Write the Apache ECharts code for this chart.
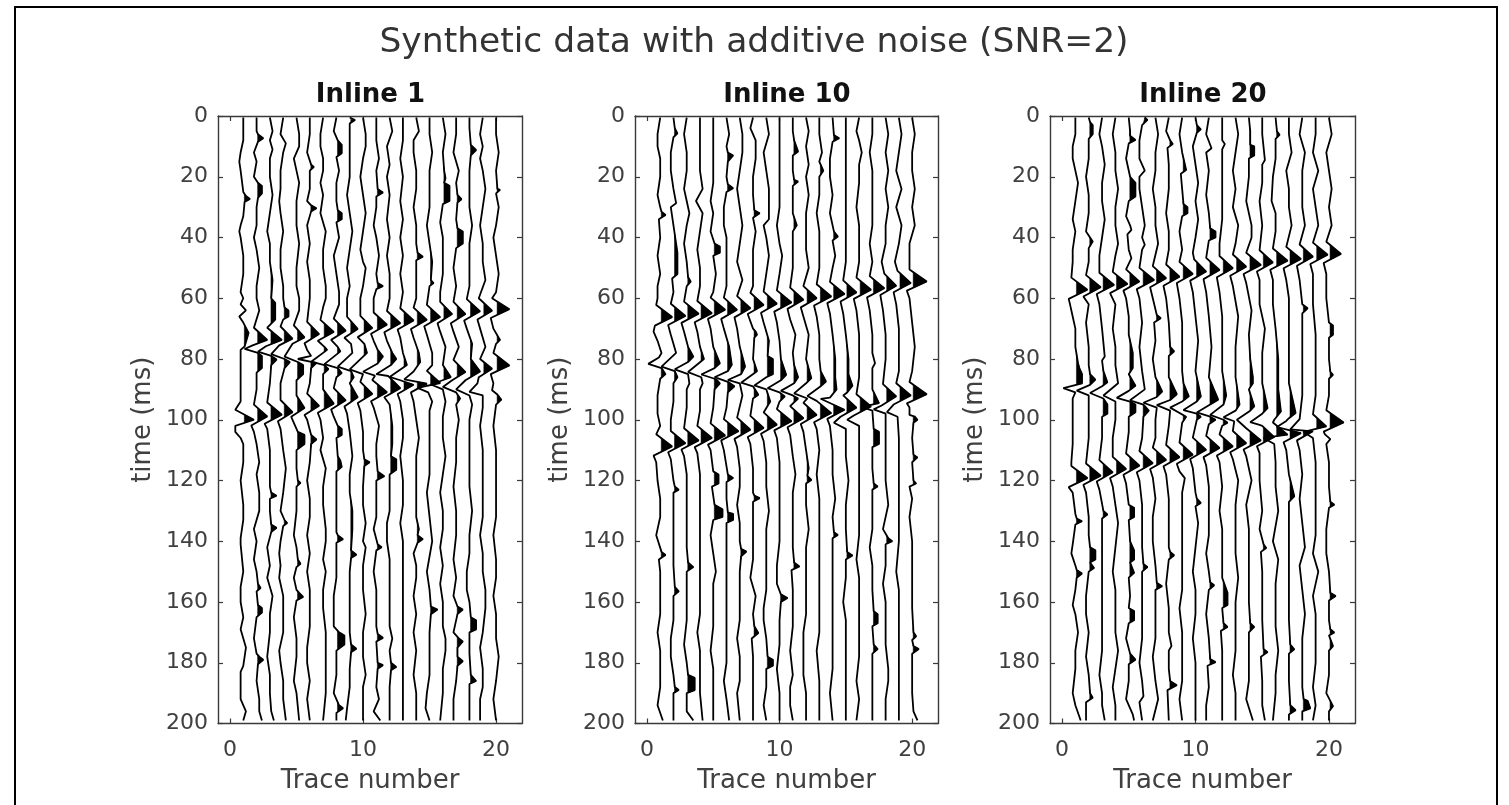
<!DOCTYPE html>
<html><head><meta charset="utf-8">
<script src="https://cdn.jsdelivr.net/npm/echarts@6/dist/echarts.min.js"></script>
<style>html,body{margin:0;padding:0;background:#fff}#c{width:1509px;height:805px;filter:blur(0.4px)}</style>
</head><body><div id="c"></div>
<script>
// Traces: flat lists of time (ms), amplitude (tenths of a trace spacing).
const inline1 = [
[0.5,0,8,0,12,-2,15,-3,18,-2,25,0,26.3,2,27.3,5,28.3,1,33,0,36,-2,38,-3,40,-2,46,0,52,0,58,-2,60,0,62,-2,64,2,66,-3,68,0,71.4,4,75.9,1,77,-2,82,-2,90,-2,94,-2,96.7,-6,100,8,102,-6,104,-6,106,-2,108,0,114,0,120,-2,128,0,133,0,139,-2,141,-2,150,0,155,-2,160,-2,165,0,169,-2,175,2,181,0,183,-2,192,-2,196,2,199,0],
[0.5,0,5,0,6,1,7.3,5,8.5,1,12,-2,15,0,20,-2,22,1,23,4,25.5,4,27,1,30,0,36,0,40,-2,44,0,50,2,56,0,60,0,64,2,69.7,-2,73.7,8,75.5,-3,76.7,-9,78,1,79,4,83,4,84.5,0,90,0,95,-2,98.9,8,101.9,-4,104,-2,108,0,114,2,118,0,124,2,130,2,136,-2,140,0,146,-2,150,0,154,1,155.4,3,156.5,0,161,1,162,4,163.5,4,165,0,172,-2,177,0,178,2,179,5,180.5,1,186,0,192,2,196,2,199,4],
[0.5,0,5,2,8,0,11,2,14,0,20,0,26,2,32,0,38,-2,42,0,48,0,54,2,60,1,61.5,4,67,4,69.7,-2,73.7,9,75.8,-3,77.6,-9,79,1,80.2,5,82,1,88,0,94.3,-2,98.3,9,101.3,-4,103,-2,110,0,116,0,122,0,124,1,125,5,126,0,130,0,134.5,1,135.6,5,137,1,142,-2,148,0,152,-2,158,2,164,0,170,0,178,-2,184,0,190,0,196,1,199,3],
[0.5,0,6,-2,9,2,12,0,18,-2,24,-2,28,-3,32,-2,38,0,44,-2,50,-2,56,0,60,0,63,1,64,4,66,4,67,0,69.3,-2,73.3,7,75.5,-3,78.4,-9,80,1,81,5,83,1,88,-2,93.5,-2,97.5,7,100.5,-4,103,-2,110,0,116,2,124,0,130,-2,133,1,134,3,135,0,140,-2,144,-3,148,-2,152,-3,158,0,164,0,170,0,176,-3,180,-2,186,0,192,0,199,2],
[0.5,0,6,2,10,2,14,-2,18,0,22,2,28,0,36,0,42,2,50,0,56,0,60,2,64,2,68.9,-2,72.9,6,75,-3,79.2,-9,81,1,82,5,85,5,87,0,92,0,96.1,6,99,-4,101,-2,104,1,105,6,108,6,110,0,116,0,120,1,120.8,3,122,0,130,0,138,-2,142,0,146,1,147.4,3,148.5,0,152,-2,156,0,157,2,158.3,5,159.5,0,165,-2,172,0,178,0,186,-2,190,0,199,2],
[0.5,0,6,0,12,-2,16,1,16.8,3,18,0,24,0,28,-2,29.4,1,30.4,5,31.4,1,36,-2,42,0,48,-2,54,0,60,0,67.8,-2,71.8,7,74.8,-4,77,-2,79,1,80,-9,81,2,81.3,5,83,1,88,0,91.4,-2,95.4,7,98.4,-4,100,-2,105,1,106.5,5,108,1,114,0,120,-2,126,0,132,0,138,-2,144,0,150,-2,156,0,162,0,168,0,175,-2,180,-2,186,0,192,-2,199,0],
[0.5,0,6,-2,10,-2,14,0,18,0,22,-2,26,0,32,-2,38,2,44,0,50,0,56,2,60,2,63,0,67.1,-2,71.1,8,74,-4,76,1,77,3,80.9,-9,82,1,83.3,4,85,0,90,0,94.7,8,97.7,-4,100,-2,106,0,110,-2,116,2,122,0,128,0,136,2,140,2,146,0,150,2,156,0,162,0,170,2,178,2,184,2,190,2,199,0],
[0.5,0,5,-2,8,1,9.5,4,12.3,4,13.5,0,18,2,22,0,28,0,31,1,32,4,34,4,35,0,40,2,46,-2,52,0,58,2,62,2,66.7,-2,70.7,7,73.7,-4,76,1,77.5,3,81.7,-9,83,1,84.6,4,86,0,89.6,-2,93.6,7,96.6,-4,99,-2,102,1,103,4,105,4,106,0,112,1,113.5,3,115.5,4,117,0,124,0,130,0,137,0,138,1,139.3,5,140.5,0,146,0,152,0,158,-2,164,-2,168,-2,170,2,171,6,174,6,176,0,184,0,190,-2,194,2,195,5,196.5,0,199,0],
[0.5,0,1,0,1.3,4,2.5,0,8,0,14,0,20,0,26,-2,32,0,38,2,44,0,50,-2,56,0,60,-2,66.1,-2,70.1,6,73,-4,75,1,78,2,82.5,-9,84,1,86,3,88,0,92.6,6,95.6,-4,98,-2,104,0,112,2,118,0,124,0,130,2,136,2,143,1,144.4,5,145.5,1,150,0,158,0,164,0,170,0,174,1,175.4,5,176.5,1,182,0,188,0,195,-2,199,-3],
[0.5,0,6,2,10,2,14,0,20,-2,26,0,32,2,38,0,44,-2,48,0,50,2,56,0,60,-2,65.8,-2,69.8,7,72.8,-4,75,1,78,3,83.4,-10,85,0,87.5,-2,91.5,7,94.5,-4,97,-2,104,0,110,0,113,1,114,5,115.2,1,122,0,128,0,134,2,140,0,142,2,148,0,156,0,164,2,170,0,178,0,184,2,188,0,192,0,199,0],
[0.5,0,8,0,14,2,18,0,24,1,25.2,5,26.5,0,30,0,36,-2,40,0,46,2,52,0,55,1,56,5,57,0,60,-2,64.7,-2,68.7,8,71.7,-4,74,-2,77,1,79.2,5,81.5,1,84.2,-10,85.5,-1,86.9,-3,90.9,8,93.9,-4,96,-2,102,2,108,0,112,0,117,1,118.6,6,120,0,126,0,132,0,136,-2,141,1,142,4,143,0,150,-2,156,0,162,0,168,0,170.5,1,171.8,5,173,0,180,1,180.8,5,182,1,188,0,192,2,196,-2,199,3],
[0.5,0,5,2,10,-2,16,0,20,-2,26,0,34,-2,40,0,46,-2,52,0,58,0,60,0,64.2,-2,68.2,8,71.2,-4,74,-2,78,2,80,5,82,1,85,-10,85.6,-1,86,0,89.6,8,92.6,-4,95,0,102,2,108,2,112,1,113,5,116.5,5,118,0,124,0,130,0,134,-2,140,-2,146,0,152,0,160,0,168,0,172,2,176,0,180,1,181.4,5,182.5,1,188,0,194,0,199,0],
[0.5,0,8,0,14,-2,20,0,28,-2,34,0,40,-2,46,0,52,-2,58,0,63.3,-2,67.3,8,70.3,-4,73,-2,78,0,82,3,85.9,-10,87,-2,88.5,8,91.5,-4,94,-2,100,0,106,0,112,-2,120,0,128,0,134,-2,140,0,146,0,152,0,158,0,166,0,172,0,180,0,186,0,192,0,199,0],
[0.5,0,5,2,8,-2,12,-2,18,0,24,0,30,-2,36,0,42,0,45,1,46.3,5,47.5,0,54,0,60,0,63.1,-2,67.1,8,70.1,-4,73,-2,78,2,81,3,84.1,-2,86.7,-9,88.1,8,91,-4,94,-2,100,0,106,2,112,0,118,0,126,0,132,0,136,2,138,1,139.3,5,140.5,1,144,-2,148,0,152,0,158,-2,164,0,170,-2,176,0,184,-2,190,0,199,0],
[0.5,0,6,0,12,2,18,0,24,0,30,0,36,-2,42,0,48,2,54,1,55,3,56,0,62.2,-2,66.2,8,69.2,-4,72,-2,78,2,82,2,83.9,-2,87.9,8,89.5,-9,91,-1,94,2,97,0,103,0,110,0,118,0,124,-2,132,0,140,2,150,-2,156,0,161.5,1,162.5,6,164,1,170,0,176,0,184,0,190,-2,195,-3,199,0],
[0.5,0,6,2,12,0,18,1,20.5,2,22,1,23,5,28,5,29,0,35,-2,40,0,46,0,52,0,58,-2,61.2,-2,65.2,7,68.2,-4,71,-2,76,2,82,0,86,6,88.4,-9,90,0,94,2,99,0,106,0,112,2,118,0,124,-2,130,0,136,0,142,-2,148,0,154,-2,160,0,168,0,172,2,176,2,182,0,190,0,199,-2],
[0.5,0,6,0,12,-2,18,2,22,0,26,1,27.4,4,28.5,1,34,0,37,1,38,5,42,5,43.5,0,50,-2,56,0,61.2,-2,65.2,7,68.2,-4,71,-2,76,2,80.3,-2,84.3,7,87,-3,89.2,-10,91,0,93,3,95,0,100,2,106,0,114,0,122,-2,130,0,138,0,146,-2,152,0,158,-2,161.5,1,162.5,5,164,1,170,-2,172,2,173,5,175,1,178,1,179.5,5,181,1,186,0,192,-2,199,-2],
[0.5,0,4,0,9.5,1,11.2,5,13,1,18,0,24,0,30,0,36,2,42,0,50,0,56,0,60.3,-2,64.3,8,67.3,-4,70,-2,75,2,80,1,84.1,8,87,-3,90,-10,92,0,95,2,100,0,108,0,116,0,122,0,130,2,138,0,144,0,150,-2,156,-2,160,0,165,1,166,5,169,5,170,0,177,0,184,1,186,5,187,0,192,0,199,0],
[0.5,0,6,-2,10,0,14,-2,18,0,24,2,30,0,36,-2,42,0,48,0,54,2,60,-3,64.1,7,67,-4,70,-2,76,2,80,-2,83.2,7,86,-3,88,-4,90.8,-10,92,0,96,0,102,-2,110,0,116,0,124,0,132,0,138,-2,144,0,150,0,156,2,162,2,170,0,175,-2,182,0,188,0,192,-2,199,-2],
[0.5,0,6,0,12,2,18,0,24,1,24.3,3,25.5,0,30,2,36,0,40,-2,46,0,52,2,58,0,60,-3,63.6,10,66.5,-4,70,-2,73,2,73.7,3,75,0,78,-2,82.1,10,85,-4,88,-2,90.3,-3,91.7,1,93.4,4,95,0,102,-2,110,0,116,0,124,0,132,0,138,-2,146,0,152,0,158,-2,164,0,172,0,178,2,186,0,192,-2,199,0]
];
const inline10 = [
[0.5,0,6,-2,10,-2,14,0,20,0,26,-2,30,0,31.5,1,32.6,4,34,-1,40,0,46,-2,52,0,56,-2,60,-2,62.2,-3,66.2,9,69,-4,71,-5,74,-2,78,1,79.5,-1,81.6,-9,83,1,85,4,86.5,0,92,-2,98,-2,102,0,104.8,-3,108.8,9,111.8,-5,114,-3,120,-2,126,0,132,0,136,-2,138,-3,143.5,1,144.5,4,146,-1,150,0,158,0,164,0,170,-2,176,0,182,0,188,0,194,-2,199,2],
[0.5,0,4,1,5.7,3,7,0,12,-2,18,-2,24,0,28.7,2,30,-2,36,0,42,2,45,3,52,3,53.5,-1,58,0,61.8,-2,65.8,9,68.8,-4,72,-2,78,2,82.5,-9,84,1,86,3,88,0,94,0,100,-2,103.7,-2,107.7,9,110.7,-4,113,-2,120,0,122,1,123,4,124,0,130,0,136,0,142,0,148,0,155,1,156.5,4,158,0,166,0,172,-2,178,-2,184,0,188,1,189,4,190,0,199,0],
[0.5,0,6,-2,12,0,18,0,24,-2,28,0,32,2,36,0,42,-2,48,0,53,1,54.5,3,56,0,61.1,-2,65.1,9,68.1,-4,71,-2,76,1,79.2,5,81,1,83.4,-9,85,1,88,2,90,0,96,0,102.8,-2,106.8,9,109.8,-4,112,-2,118,0,126,0,134,0,142,0,147,1,148.5,5,150,0,158,0,166,0,174,-2,180,0,184,1,185,6,189,6,190,0,196,0,199,5],
[0.5,0,6,0,12,0,18,0,24,2,28,-3,32,2,38,0,44,-2,50,0,56,0,60.9,-2,64.9,9,67.9,-4,71,-2,76,0,80,3,84.3,-9,86,1,88,2,90,0,97,0,102,-2,106,9,109,-4,111,-2,118,0,126,0,134,0,140,0,148,0,156,0,164,0,170,-2,176,0,184,0,190,0,199,2],
[0.5,0,8,0,14,0,22,0,28,-2,32,0,38,-2,42,1,43,5,45,5,46,0,52,2,58,0,59.8,-2,63.8,9,66.8,-4,70,-2,76,0,81.4,5,83,1,85.1,-9,86.5,1,87,3,88,5,90,1,96,0,101.2,-2,105.2,9,108.2,-4,110,-2,117,0,118,4,121,4,122,-1,128,1,129.5,7,132,7,133,0,138,-2,144,0,150,2,154,0,160,0,168,0,176,-2,182,0,188,0,194,0,199,0],
[0.5,0,6,2,10,0,12,1,13,5,15,1,20,0,22.5,1,23.8,5,25,0,30,-2,36,-2,40,0,46,0,52,0,56,0,59.8,-2,63.8,8,66.8,-4,70,-2,76,2,81.9,4,84,1,86,-9,87.5,1,89,6,91,1,96,0,99.8,-2,103.8,9,106.8,-4,110,-2,118,1,119.2,5,120.5,0,126,0,130.5,1,131,5,133,5,134,0,140,0,148,0,156,0,164,0,172,0,180,0,186,-2,192,0,199,2],
[0.5,0,6,2,12,2,18,0,24,-2,30,0,36,2,42,0,48,-2,54,2,59.3,-2,63.3,8,66.3,-4,70,-2,76,0,82.5,4,85,1,86.9,-9,88,0,92,2,99.3,-2,103.3,8,106.3,-4,109,-2,116,0,122,0,128,-2,134,0,140,0,142.5,1,143.4,5,145,1,150,0,158,0,166,0,172,-2,178,0,186,0,190,-2,199,0],
[0.5,0,4,-2,8,2,14,2,20,0,26,0,31,1,32,5,33.5,0,38,2,44,0,50,0,56,0,58.2,-2,62.2,8,65.2,-4,70,0,71,2,72,3,73,1,80,0,84,3,87.8,-9,89,0,91.8,4,93,0,98.7,-2,102.7,8,105.7,-4,108,-2,116,0,124,0,125,1,125.8,5,127,0,132,0,138,0,146,0,152,-2,158,2,164,0,168,1,170.2,4,172,-1,178,0,186,0,192,0,199,0],
[0.5,0,6,2,12,-2,18,0,24,2,30,2,34,2,36,-2,40,0,46,2,52,0,57.8,-2,61.8,8,64.8,-4,68,-2,74,2,79,1,80,5,85,5,86,0,88.7,-9,90,0,94,3,97.6,-2,101.6,8,104.6,-4,107,-2,114,0,122,0,130,2,136,0,142,0,150,0,156,0,162,-2,166,-2,172,0,178,1,179,5,181,5,182,0,188,0,194,-2,199,0],
[0.5,0,6,0,12,0,18,0,24,0,30,0,36,-2,42,0,46,2,52,0,57.4,-2,61.4,9,64.4,-4,68,-2,74,0,80,1,85.2,5,87,1,89.6,-9,91,0,92.3,4,94,0,96.5,-2,100.5,9,103.5,-4,106,-2,114,0,120,0,126,0,132,0,140,0,148,-2,154,-2,157.5,1,158.7,6,160,1,166,0,174,0,182,-2,190,0,199,0],
[0.5,0,5,0,8,1,11.7,4,13,0,18,0,21,1,21.6,4,23,0,28,0,32,0,36,3,38,0,44,0,50,0,56.5,-2,60.5,8,63.5,-4,67,-2,72,2,78,0,82,1,86,4,88,1,90.5,-9,92,0,93,4,95.5,-2,99.5,8,102.5,-4,105,-2,112,0,118,2,124,0,130,0,136,0,142,0,147,1,148.3,5,149.5,-1,156,0,162,0,168,0,176,-2,184,0,188,-2,194,-2,199,0],
[0.5,0,5,2,10,0,16,2,20,0,26,2,32,0,38,0,44,0,50,2,56,-2,60,8,63,-4,66,-2,72,2,80,0,86.3,4,88,0,91.3,-9,93,1,94.4,-2,98.4,8,101.4,-4,104,-2,110,0,116,2,118.5,1,119.8,4,121,0,128,0,136,2,142,0,150,0,158,0,164,0,170,-2,178,-2,184,-2,190,0,199,0],
[0.5,0,6,0,12,2,15,0,18,3,20,0,26,0,32,-2,38,0,44,0,50,0,55.4,-2,59.4,9,62.4,-4,66,-2,72,0,80,0,84,1,87.4,5,89,1,92.2,-9,93.8,-2,97.8,9,100.8,-4,103,-2,110,0,118,-2,126,0,132,0,138,0,144,0,150,0,156,0,162,0,170,0,176,-2,186,0,190,0,199,0],
[0.5,0,6.3,1,7.3,5,8.5,0,14,-2,20,-2,26,0,32,-2,38,1,39.7,4,41,0,46,2,50,0,54.6,-2,58.6,9,61.6,-4,65,-2,72,0,80,2,86,2,90,3,92.7,-2,93.1,-9,96.7,9,99.7,-4,102,-2,110,0,118,0,126,2,132,0,137,1,137.9,4,139,0,146,0,154,0,160,0,168,0,176,0,182,0,190,-2,199,0],
[0.5,0,8,0,14,0,22,0,30,0,36,0,42,0,48,0,54.1,-2,58.1,8,61.1,-4,65,-2,72,0,80,2,85,2,88.8,5,91,1,92,-2,96,8,99,-4,101,-9,103,0,106,0,112,0,120,2,128,0,136,0,143.5,1,144.7,5,146,0,152,0,160,-2,166,0,172,0,180,0,186,0,194,0,199,0],
[0.5,0,5,-2,8,0,12,2,16,0,22,0,30,-2,36,0,42,0,48,0,53.2,-2,57.2,9,60.2,-4,64,-2,72,0,80,0,86,0,91.6,-2,95.6,9,98.6,-4,100,-9,102,0,108,0,116,0,124,0,130,0,138,0,146,-2,152,0,160,0,166,0,172,0,178,0,186,-2,192,0,199,-2],
[0.5,0,6,0,12,-2,18,0,24,0,30,0,36,0,42,-2,48,0,52.7,-2,56.7,9,59.7,-4,64,-2,72,0,78,0,81.4,2,83,0,90,0,94.5,5,95.8,-8,97,0,103,1,104,5,108,5,109,0,116,0,121,1,122,4,123,0,130,0,136,0,142,-2,148,0,156,0,163,1,164,4,167,4,168,0,174,1,175.5,4,177,0,184,0,192,0,199,0],
[0.5,0,6,2,12,0,18,2,24,0,30,2,36,0,42,0,48,-3,51.9,-1,55.9,8,58.9,-4,64,-2,72,0,80,0,88.3,-2,92.3,8,95.3,-3,96.6,-9,98,0,104,0,112,0,120,0,128,2,136,-2,139,2,140,5,141,0,148,0,154,-2,160,0,168,0,174,0,182,2,186,2,192,0,199,0],
[0.5,0,6,2,12,0,18,-2,24,2,30,-2,36,2,42,0,48,-3,51,-1,55,9,58,-4,62,-2,70,0,78,0,84,0,88,-2,92,9,95,-4,97.5,-9,99,-1,106,0,114,0,122,0,130,0,140,0,150,-2,156,0,164,0,172,0,180,0,188,0,194,0,199,0],
[0.5,0,6,2,12,0,18,0,24,2,30,0,36,2,42,-2,48,-2,50.5,-2,54.5,11,57.5,-4,60,-2,68,0,76,2,84,0,87.6,-2,91.6,11,94.6,-4,96,-2,98.4,-2,99,2,100,4,101,1,106,0,111.5,1,112.4,4,114,0,120,1,121,3,122,-2,126,0,132,-2,140,0,148,0,154,0,162,0,170,1,171.3,3,172.5,0,174.5,1,175.5,5,177,0,184,0,190,0,196,1,199,4]
];
const inline20 = [
[0.5,0,6,0,10,-2,14,-2,18,0,22,2,28,0,34,-2,38,0,44,-2,48,-2,53.2,-3,57.2,9,60.2,-5,62,-4,66,-2,70,0,76,0,81.4,2,83,3,85,5,88,5,89.6,-9,91,0,93,-2,100,-2,108,-2,114,-3,115.2,-3,119.2,9,122.2,-5,124,-2,131,0,132.5,1,133.4,5,134.5,0,141,-2,144,-3,148,0,149.5,1,150.6,5,152,1,156,0,161,-2,164,0,170,2,176,0,182,0,190,-2,194,0,199,4],
[0.5,0,2,1,3,3,6,3,7.5,0,14,0,20,-2,26,0,32,0,38,-2,41.3,3,43.5,0,48,0,52.4,-2,56.4,9,59.4,-4,62,0,68,-2,76,0,82,0,85,1,86.8,5,88.5,1,90.4,-9,92,0,98,0,106,0,114.4,-2,118.4,9,121.4,-4,124,-2,132,0,138,0,142,1,143,5,146,5,147,1,148.8,4,150,0,158,-2,164,-2,170,0,178,-2,184,0,190,1,191.5,3,193,-2,199,-2],
[0.5,0,6,-2,10,0,16,2,22,0,28,0,34,2,40,0,46,-2,51.6,-2,55.6,9,58.6,-4,62,-2,70,0,79.2,2,80.5,0,84,1,87.7,4,89,0,91.2,-9,93,1,95,4,98,4,99,0,106,0,113.3,-2,117.3,8,120.3,-4,123,-2,130,1,131.2,4,132.5,0,140,0,146,0,152,0,160,0,168,0,176,0,184,-2,190,0,194,0,199,2],
[0.5,0,6,-2,12,0,18,0,24,2,30,0,36,0,42,2,46,0,51.3,-2,55.3,9,58.3,-4,62,0,70,-2,76,0,82,0,88,2,92,-9,94,0,100,0,106,-2,112.2,-2,116.2,8,119.2,-4,122,-2,128,0,134,2,142,0,150,-2,156,0,162,0,170,0,176,2,182,0,188,-2,194,0,199,0],
[0.5,0,5,1,6.5,1,7.9,5,9,0,14,-2,20,1,22,5,26.5,5,28,0,33,-2,36,1,37.5,2,39,-1,44,0,46.8,2,50.5,-2,54.5,8,57.5,-4,60,-2,66,0,72,0,78,3,83,3,85,0,88.8,5,90.5,0,92.8,-9,94,1,95,5,97.5,5,99,0,104,0,111.1,-2,115.1,8,118.1,-4,121,-2,128,0,129,4,132,4,133,0,140,1,143,4,146,4,147,1,150.4,4,152,0,158,1,162,0,163,4,166,4,167,0,172,-2,177,1,179,5,180.5,0,186,0,192,-2,197,3,199,4],
[0.5,2,1.3,4,3,0,8,-2,14,-2,18,2,20,-2,24,-2,30,0,36,2,40,0,42.4,2,44,0,50,-2,54,9,57,-4,60,-2,68,0,76,-2,84,0,90,2,93.6,-9,95,1,97,5,99,1,106,0,110.3,-2,114.3,8,117.3,-4,120,-2,128,0,134,0,142,0,147.5,1,148.5,4,150,0,156,0,164,0,172,0,180,-2,186,0,191,1,193,-2,199,0],
[0.5,0,6,2,12,0,18,0,24,-2,30,0,36,0,42,2,49.4,-2,53.4,8,56.4,-4,60,-2,65.5,1,66.6,4,68,-1,74,0,80,-2,86,0,90.7,5,92.5,1,94.4,-9,96,1,100,0,106,0,109.2,-2,113.2,8,116.2,-4,119,-2,126,0,132,-2,140,-2,148,0,153.7,1,154.8,5,156,0,164,0,172,0,178,-2,186,0,192,2,199,-2],
[0.5,0,5,-2,8,1,9.2,3,10.5,-1,16,0,24,0,32,-2,38,0,44,0,48.9,-2,52.9,8,55.9,-4,60,-2,68,0,76,1,77.5,4,79,0,86,0,91.6,6,93.5,1,95.2,-9,97,1,102,0,108.3,-2,112.3,8,115.3,-4,118,-2,126,0,134,0,142,0,143.5,1,144.6,4,146,0,154,-2,162,0,170,0,174.5,2,176,0,182,0,186,1,187.4,6,189,-1,199,0],
[0.5,0,6,-2,12,0,17.8,3,19,-1,24,0,29,1,30,4,32,4,33,0,38,-2,44,0,48,-2,52,8,55,-4,60,-2,68,0,76,0,84,0,88,1,92.3,5,94,0,96,-9,99,3,101,0,107.5,-2,111.5,8,114.5,-4,117,-2,119.2,2,124,0,132,0,140,0,148,0,156,0,162,-2,170,0,178,0,186,0,192,-2,199,0],
[0.5,0,3,1,4.4,4,5.5,1,10,-2,16,0,22,2,28,0,34,2,40,0,45,-2,47.2,-1,51.2,8,54.2,-4,58,-2,66,0,74,2,84,0,92.3,4,94,1,96.8,-9,98,1,99,4,100,1,105.9,-2,109.9,8,112.9,-4,116,-2,124,0,126,1,127.4,4,128.5,0,134,2,142,0,150,-2,156,0,164,0,172,-2,180,0,190,0,199,0],
[0.5,0,6,-2,10.6,2,12,-2,18,0,26,-2,32,0,37,1,38,5,40,5,41,0,46.7,-2,50.7,8,53.7,-4,58,-2,66,0,76,2,86,0,93.4,7,95,1,97.6,-9,99,1,100,5,101.5,0,105.3,-2,109.3,8,112.3,-4,115,-2,122,0,130,0,138,0,144,-2,150,0,153.5,1,154.5,4,156,0,164,-2,172,0,178.8,1,179.8,5,181,-1,188,0,194,-2,199,-2],
[0.5,0,8,0,9.2,2,11,0,18,0,26,0,34,0,42,-2,46.1,-2,50.1,8,53.1,-4,58,-2,66,0,74,0,84,0,92,3,95,1,98.4,-9,100,1,101,4,102,0,104.8,-2,108.8,8,111.8,-4,114,-2,122,0,130,-2,136,0,144,0,152,0,157,4,161,4,162,0,167,1,168.2,4,169.5,-1,176,0,184,0,192,0,199,0],
[0.5,0,6,2,12,0,18,-2,24,0,30,-2,36,2,42,0,45.6,-2,49.6,8,52.6,-4,56,-2,66,2,76,0,86,0,95,3,97,0,99.2,-9,100.5,-1,103.7,-2,107.7,8,110.7,-4,113,-2,120,2,128,0,136,0,144,0,152,2,160,0,168,0,176,0,184,-2,190,0,199,0],
[0.5,0,5,1,9.5,1,10,4,13,4,14,0,20,0,28,-2,36,2,40,2,45,-2,49,9,52,-4,55,-2,64,2,72,0,80,1,86,3,88,3,90,0,95.6,4,97,1,100,-9,102.8,-2,106.8,9,109.8,-4,112,-2,120,2,128,-2,136,0,144,0,152,0,160,0,167,1,168.2,4,170,0,178,0,186,0,192,-2,199,3],
[0.5,0,6,0,14.5,2,16,0,22,0,28,-2,36,0,44.2,-2,48.2,8,51.2,-4,54,-2,62,-2,70,2,78,0,88,0,96.2,4,98,0,100.8,-9,101.7,-2,102,0,105.7,9,108.7,-4,111,-2,120,-2,130,0,136,-2,141,1,142.2,3,143.5,-1,150,0,158,0,166,0,175.5,1,176.5,4,178,-1,186,0,194,0,199,2],
[0.5,0,5,1,6.2,3,7.5,0,14,0,20,-2,28,-3,32,0,38,0,43.6,-2,47.6,9,50.6,-4,54,-2,62,-2,70,0,80,2,90,2,97.3,4,100,-1,100.9,-2,104.9,9,106,-9,108,-1,114,0,122,0,130,2,140,-2,146,2,154,0,160,0,168,0,176,2,184,0,190,0,199,-2],
[0.5,0,6,0,12,2,18,-2,24,0,30,0,36,2,43.1,-2,47.1,9,50.1,-4,54,-2,60,0,68,0,78,0,88,0,97.8,5,99.5,0,100.4,-2,102.4,-9,104.4,9,107.4,-4,110,-2,118,0,125.2,4,127,0,134,0,142,0,150,0,158,0,166,0,174,1,175.6,4,177,0,186,0,194,1,195.6,5,197,0,199,0],
[0.5,0,6,-2,12,2,18,0,24,0,30,0,36,2,42.3,-2,46.3,8,49.3,-4,54,-2,62,0,63.3,4,65,0,72,0,82,0,92,0,99.8,-2,103.2,-9,103.8,8,106.8,-4,110,-2,118,0,126,-2,134,0,142,2,148,-2,156,0,164,2,172,0,180,0,188,0,192,1,192.5,4,195,6,196,0,199,0],
[0.5,0,6,0,12,-2,18,2,24,-2,30,0,36,2,41.7,-2,45.7,9,48.7,-4,52,-2,62,-2,72,0,82,0,92,0,98.2,-2,102.2,8,104,-9,106,-2,114,0,122,0,130,0,138,0,144,-2,150,2,158,-2,164,0,172,0,180,0,188,-2,194,0,199,-2],
[0.5,0,6,2,12,-2,18,0,24,2,30,0,36,2,41.4,-2,45.4,9,48.4,-4,52,-2,60,-2,68,0,69,3,72,3,73,0,80,0,84.2,1,85.2,3,86.5,0,92,0,96.9,-2,100.9,11,103.9,-4,104.8,-3,106.4,1,108,-2,114,0,122,0,127,1,128,4,129,0,136,-2,144,-2,150,0,157,1,158,5,159.5,0,166,0,169,1,170,4,171,0,174.5,3,176,0,184,0,190,-2,194.3,3,196,0,199,0]
];
const traceNumbers = [1,2,3,4,5,6,7,8,9,10,11,12,13,14,15,16,17,18,19,20];
const panelTitles = ['Inline 1','Inline 10','Inline 20'];
const xTickValues = [0,10,20];
const panels = [inline1, inline10, inline20];

const FILL_BASE = 0.8, FILL_MIN_PEAK = 2.5;   // tenths of a trace spacing
const grids = [{left:218,width:304},{left:635,width:303},{left:1050,width:305}];
const axisColor = '#3a3a3a', textColor = '#404040';
const tickFont = 22, labelFont = 26;

function tracePairs(list){
  const out=[]; for(let i=0;i<list.length;i+=2) out.push([list[i],list[i+1]]);
  return out.sort((a,b)=>a[0]-b[0]);
}
function lobesOf(k,pairs){
  const lobes=[]; let cur=null, peak=0;
  const b=k+FILL_BASE/10;
  for(let i=0;i<pairs.length;i++){
    const [t,a]=pairs[i];
    if(a>FILL_BASE){
      if(!cur){
        cur=[]; peak=0;
        if(i>0){const [t0,a0]=pairs[i-1]; cur.push([b,t0+(FILL_BASE-a0)/(a-a0)*(t-t0)]);}
      }
      peak=Math.max(peak,a);
      cur.push([k+a/10,t]);
    } else if(cur){
      const [t0,a0]=pairs[i-1];
      cur.push([b,t0+(a0-FILL_BASE)/(a0-a)*(t-t0)]);
      if(peak>FILL_MIN_PEAK) lobes.push(cur);
      cur=null;
    }
  }
  return lobes;
}
const xAxes=[],yAxes=[],series=[],titles=[];
grids.forEach((g,p)=>{
  const xBase={gridIndex:p,type:'value',min:-0.9,max:21.95,splitLine:{show:false},
    axisLine:{show:true,onZero:false,lineStyle:{color:axisColor,width:1.4}},
    axisTick:{show:true,inside:true,length:5,customValues:xTickValues,lineStyle:{color:axisColor,width:1.2}}};
  xAxes.push(Object.assign({},xBase,{position:'bottom',name:'Trace number',nameLocation:'middle',nameGap:45,
    nameTextStyle:{fontFamily:'DejaVu Sans',fontSize:labelFont,color:textColor},
    axisLabel:{customValues:xTickValues,fontFamily:'DejaVu Sans',fontSize:tickFont,color:textColor,margin:16}}));
  xAxes.push(Object.assign({},xBase,{position:'top',axisLabel:{show:false}}));
  const yBase={gridIndex:p,type:'value',inverse:true,min:0,max:200,interval:20,splitLine:{show:false},
    axisLine:{show:true,onZero:false,lineStyle:{color:axisColor,width:1.4}},
    axisTick:{show:true,inside:true,length:5,lineStyle:{color:axisColor,width:1.2}}};
  yAxes.push(Object.assign({},yBase,{position:'left',name:'time (ms)',nameLocation:'middle',nameGap:62,
    nameTextStyle:{fontFamily:'DejaVu Sans',fontSize:labelFont,color:textColor},
    axisLabel:{fontFamily:'DejaVu Sans',fontSize:tickFont,color:textColor,margin:10}}));
  yAxes.push(Object.assign({},yBase,{position:'right',axisLabel:{show:false}}));
  const lobes=[];
  panels[p].forEach((list,i)=>{
    const k=traceNumbers[i], pairs=tracePairs(list);
    series.push({type:'line',xAxisIndex:2*p,yAxisIndex:2*p,showSymbol:false,symbol:'none',silent:true,
      lineStyle:{color:'#000',width:1.8},
      data:pairs.map(([t,a])=>[k+a/10,t])});
    lobes.push(...lobesOf(k,pairs));
  });
  series.push({type:'custom',xAxisIndex:2*p,yAxisIndex:2*p,silent:true,clip:true,
    data:lobes.map((l,i)=>[l[0][0],l[0][1],i]),
    encode:{x:0,y:1},
    renderItem(params,api){
      const pts=lobes[params.dataIndex].map(q=>api.coord(q));
      return {type:'polygon',shape:{points:pts},style:{fill:'#000',stroke:'#000',lineWidth:0.5}};
    }});
  titles.push({text:panelTitles[p],left:g.left+g.width/2-4.5,top:77,textAlign:'center',
    textStyle:{fontFamily:'DejaVu Sans',fontSize:26,fontWeight:'bold',color:'#111'}});
});
titles.push({text:'Synthetic data with additive noise (SNR=2)',left:749,top:21,textAlign:'center',
  textStyle:{fontFamily:'DejaVu Sans',fontSize:34.5,fontWeight:'normal',color:'#333'}});

const chart=echarts.init(document.getElementById('c'),null,{renderer:'canvas'});
chart.setOption({
  animation:false,backgroundColor:'#fff',
  title:titles,
  grid:grids.map(g=>({left:g.left,width:g.width,top:116,height:607.5,containLabel:false})),
  xAxis:xAxes,yAxis:yAxes,series,
  graphic:[{type:'polyline',silent:true,shape:{points:[[15,815],[15,7],[1497,7],[1497,815]]},
    style:{stroke:'#000',lineWidth:2,fill:null}}]
});
</script></body></html>
